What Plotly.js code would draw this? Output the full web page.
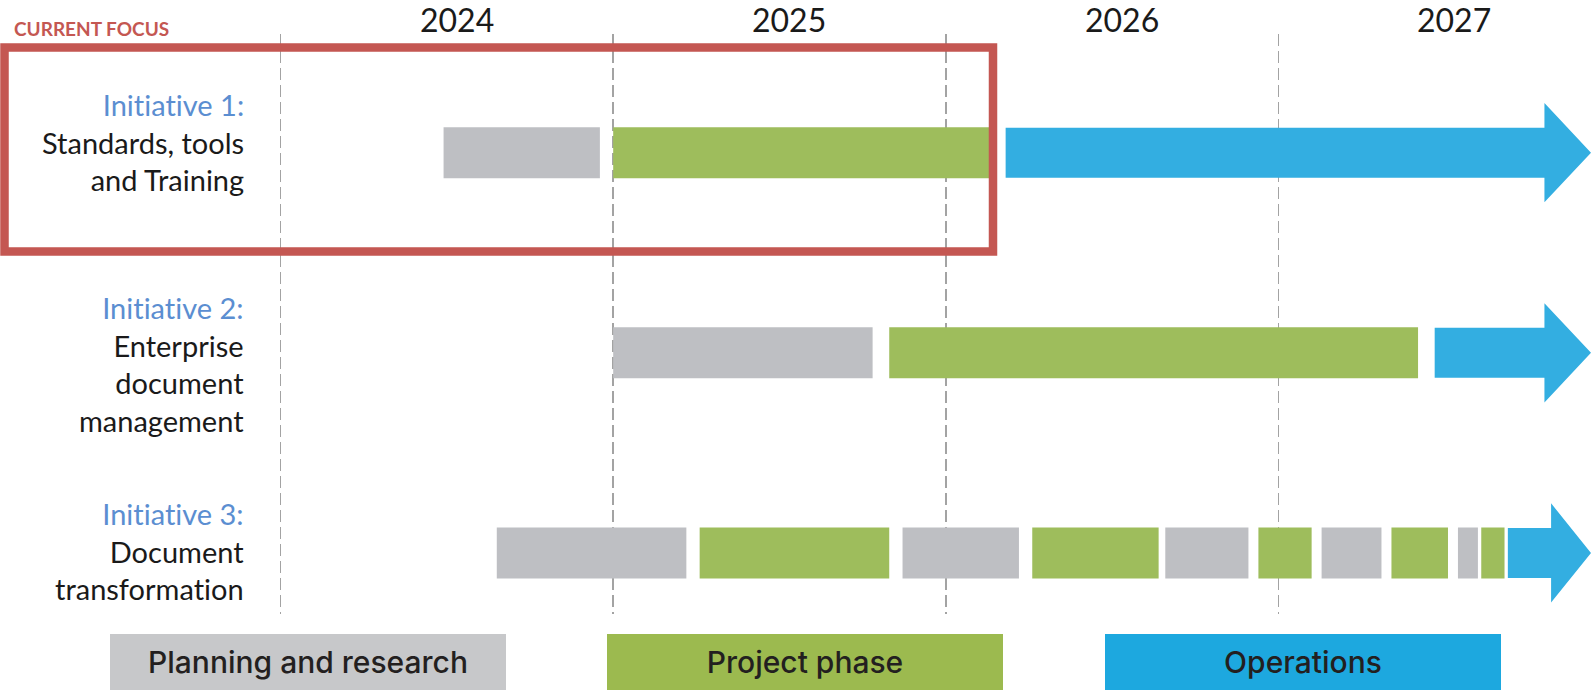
<!DOCTYPE html>
<html>
<head>
<meta charset="utf-8">
<script src="https://cdn.plot.ly/plotly-3.0.1.min.js"></script>
<style>
  html, body { margin: 0; padding: 0; background: #ffffff; }
  #chart { width: 1591px; height: 690px; }
  svg text { font-variant-ligatures: none; font-feature-settings: "liga" 0, "clig" 0; }
</style>
</head>
<body>
<div id="chart"></div>
<script>
// ---------------- DATA ----------------
const years = ['2024', '2025', '2026', '2027'];
const yearStart = [2024, 2025, 2026, 2027];

const initiativeTitles = ['Initiative 1:', 'Initiative 2:', 'Initiative 3:'];
const initiativeNames = ['Standards, tools<br>and Training', 'Enterprise<br>document<br>management', 'Document<br>transformation'];

const planningRow   = [0, 1, 2, 2, 2, 2, 2];
const planningStart = [2024.49, 2025.00, 2024.65, 2025.87, 2026.66, 2027.13, 2027.54];
const planningEnd   = [2024.96, 2025.78, 2025.22, 2026.22, 2026.91, 2027.31, 2027.60];

const projectRow   = [0, 1, 2, 2, 2, 2, 2];
const projectStart = [2025.00, 2025.83, 2025.26, 2026.26, 2026.94, 2027.34, 2027.61];
const projectEnd   = [2026.13, 2027.42, 2025.83, 2026.64, 2027.10, 2027.51, 2027.68];

const opsStart     = [2026.18, 2027.47, 2027.69];
const opsHeadStart = [2027.80, 2027.80, 2027.82];
const opsTip       = [2027.94, 2027.94, 2027.94];

const phaseNames = ['Planning and research', 'Project phase', 'Operations'];
const focusLabel = 'CURRENT FOCUS';

// ---------------- STYLE / LAYOUT ----------------
const W = 1591, H = 690;
const M = { l: 250, r: 0, t: 34, b: 76 };
const plotW = W - M.l - M.r, plotH = H - M.t - M.b;
const X = px => (px - M.l) / plotW;          // pixel -> paper x
const Y = py => (H - M.b - py) / plotH;      // pixel -> paper y

const C = {
  gray: '#BEBFC3', green: '#9EBD5C', blue: '#33AEE1',
  legGray: '#C7C8CA', legGreen: '#9CBA4F', legBlue: '#1DA8DF',
  red: '#C45752', label: '#5B8ED1', text: '#1a1a1a', grid: '#A3A3A3'
};
const barW = 0.255, bodyHalf = 0.125, headHalf = 0.248;

const traces = [];
traces.push({
  type: 'bar', orientation: 'h',
  y: planningRow, base: planningStart,
  x: planningStart.map((s, i) => planningEnd[i] - s),
  width: barW, marker: { color: C.gray, line: { width: 0 } },
  hoverinfo: 'skip', showlegend: false
});
traces.push({
  type: 'bar', orientation: 'h',
  y: projectRow, base: projectStart,
  x: projectStart.map((s, i) => projectEnd[i] - s),
  width: barW, marker: { color: C.green, line: { width: 0 } },
  hoverinfo: 'skip', showlegend: false
});
opsStart.forEach((s, r) => {
  traces.push({
    type: 'scatter', mode: 'lines', fill: 'toself',
    x: [s, opsHeadStart[r], opsHeadStart[r], opsTip[r], opsHeadStart[r], opsHeadStart[r], s, s],
    y: [r - bodyHalf, r - bodyHalf, r - headHalf, r, r + headHalf, r + bodyHalf, r + bodyHalf, r - bodyHalf],
    fillcolor: C.blue, line: { width: 0, color: C.blue },
    hoverinfo: 'skip', showlegend: false
  });
});

const labelCenters = [142, 363.7, 551];
const annotations = [];
initiativeTitles.forEach((t, i) => {
  annotations.push({
    xref: 'paper', yref: 'paper', x: X(246), y: Y(labelCenters[i]),
    xanchor: 'right', yanchor: 'middle', align: 'right', showarrow: false,
    text: '<span style="color:' + C.label + '">' + t + '</span><br>' + initiativeNames[i],
    font: { family: 'Lato, sans-serif', size: 29, color: C.text }
  });
});
years.forEach((yr, i) => {
  annotations.push({
    xref: 'x', yref: 'paper', x: yearStart[i], y: Y(19.5), xshift: 176,
    xanchor: 'center', yanchor: 'middle', showarrow: false, borderpad: 0,
    text: yr, font: { family: 'Lato, sans-serif', size: 32, color: C.text }
  });
});
annotations.push({
  xref: 'paper', yref: 'paper', x: X(12), y: Y(28.3),
  xanchor: 'left', yanchor: 'middle', showarrow: false,
  text: '<b>' + focusLabel + '</b>',
  font: { family: 'Lato, sans-serif', size: 19, color: C.red }
});
const legendCenters = [307.5, 805, 1303];
const legendColors = [C.legGray, C.legGreen, C.legBlue];
phaseNames.forEach((p, i) => {
  annotations.push({
    xref: 'paper', yref: 'paper', x: X(legendCenters[i]), y: Y(662),
    xanchor: 'center', yanchor: 'middle', showarrow: false,
    width: 396, height: 56, bgcolor: legendColors[i], borderpad: 0, borderwidth: 0,
    text: p, align: 'center', valign: 'middle',
    font: { family: 'Inter, sans-serif', size: 30, weight: 500, color: '#231F20' }
  });
});

const layout = {
  width: W, height: H, margin: M,
  paper_bgcolor: '#ffffff', plot_bgcolor: '#ffffff',
  showlegend: false, barmode: 'overlay', hovermode: false,
  xaxis: {
    type: 'linear', range: [2023.908, 2027.940],
    tickvals: yearStart, showticklabels: false, ticks: '',
    showgrid: true, gridcolor: C.grid, gridwidth: 1.5, griddash: '12px,5px',
    zeroline: false, showline: false, fixedrange: true
  },
  yaxis: {
    type: 'linear', range: [2.305, -0.593],
    showgrid: false, zeroline: false, showline: false, showticklabels: false, ticks: '', fixedrange: true
  },
  shapes: [{
    type: 'rect', xref: 'paper', yref: 'paper', layer: 'above',
    x0: X(4.5), x1: X(993), y0: Y(47.5), y1: Y(251.5),
    line: { color: C.red, width: 8.5 }, fillcolor: 'rgba(0,0,0,0)'
  }],
  annotations: annotations
};

Plotly.newPlot('chart', traces, layout, { staticPlot: true, displayModeBar: false });
</script>
</body>
</html>
